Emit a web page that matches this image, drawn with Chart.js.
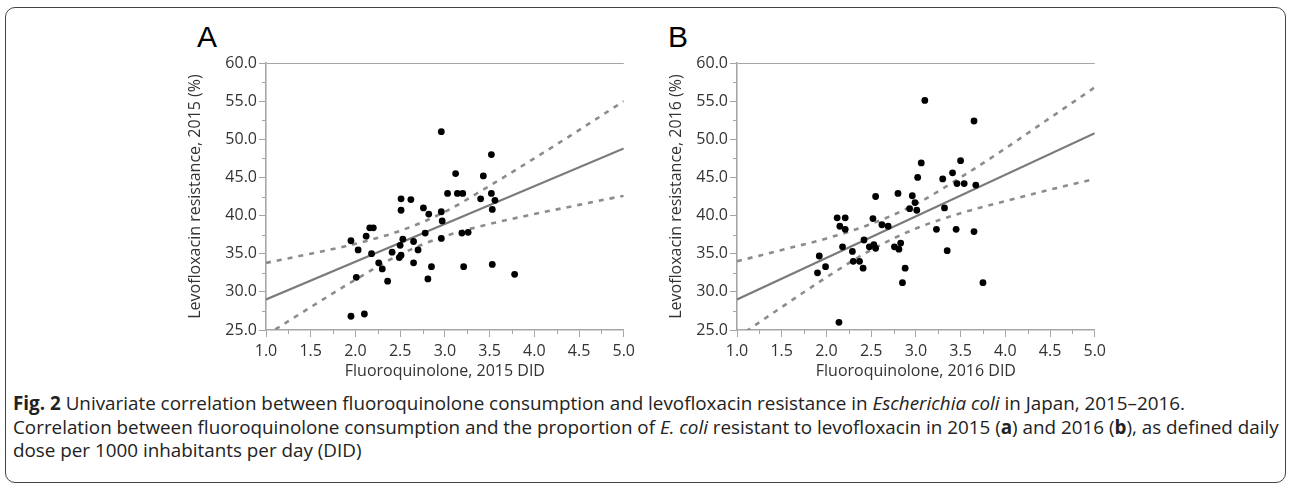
<!DOCTYPE html>
<html>
<head>
<meta charset="utf-8">
<script src="https://cdn.jsdelivr.net/npm/chart.js@4.4.1/dist/chart.umd.min.js"></script>
<style>
  html, body { margin: 0; padding: 0; background: #fff; }
  body { width: 1292px; height: 485px; position: relative; overflow: hidden; }
  #frame {
    position: absolute; left: 5px; top: 7px; width: 1279px; height: 474px;
    border: 1.5px solid #444; border-radius: 10px;
  }
  .panel { position: absolute; }
  .letter {
    position: absolute; font-family: "Liberation Sans", Arial, sans-serif;
    font-size: 30px; color: #000; line-height: 30px;
  }
  #caption {
    position: absolute; left: 13px; top: 392px;
    font-family: "Open Sans", "Noto Sans", sans-serif;
    font-size: 16px; line-height: 23.5px; color: #222; white-space: nowrap;
  }
  #caption span { display: inline-block; }
</style>
</head>
<body>
<div id="frame"></div>
<div class="letter" style="left:197px; top:22px;">A</div>
<div class="letter" style="left:668px; top:22px;">B</div>
<div class="panel" style="left:140px; top:40px; width:500px; height:350px;"><canvas id="chartA"></canvas></div>
<div class="panel" style="left:611px; top:40px; width:500px; height:350px;"><canvas id="chartB"></canvas></div>
<div id="caption">
  <div><span><b>Fig. 2</b> Univariate correlation between fluoroquinolone consumption and levofloxacin resistance in <i>Escherichia coli</i> in Japan, 2015–2016.</span></div>
  <div><span id="longLine">Correlation between fluoroquinolone consumption and the proportion of <i>E. coli</i> resistant to levofloxacin in 2015 (<b>a</b>) and 2016 (<b>b</b>), as defined daily</span></div>
  <div><span>dose per 1000 inhabitants per day (DID)</span></div>
</div>

<script>
// 2015 prefectures: fluoroquinolone DID vs levofloxacin resistance (%)
const didA = [2.96, 3.52, 3.12, 3.43, 3.03, 3.14, 3.20, 3.52, 3.40, 3.56, 2.51, 2.62, 2.51, 2.76, 2.82, 2.96,
    3.53, 2.97, 3.19, 3.26, 2.78, 2.96, 2.53, 2.65, 2.50, 2.70, 2.41, 2.51, 2.49, 2.65, 2.85, 3.21, 3.53, 3.78,
    2.81, 2.26, 2.30, 2.36, 1.95, 2.03, 2.12, 2.16, 2.20, 2.18, 2.01, 1.95, 2.10];
const resA = [51.0, 48.0, 45.5, 45.2, 42.9, 42.9, 42.9, 42.9, 42.2, 42.0, 42.2, 42.1, 40.7, 41.0, 40.2, 40.5,
    40.8, 39.3, 37.7, 37.8, 37.7, 37.0, 36.9, 36.6, 36.1, 35.5, 35.2, 34.8, 34.5, 33.8, 33.3, 33.3, 33.6, 32.3,
    31.7, 33.8, 33.0, 31.4, 36.7, 35.5, 37.3, 38.4, 38.4, 35.0, 31.9, 26.8, 27.1];

// 2016
const didB = [3.10, 3.65, 3.50, 3.06, 3.02, 3.30, 3.41, 3.46, 3.54, 3.67, 2.55, 2.80, 2.96, 2.99, 2.93, 3.01,
    3.32, 2.12, 2.21, 2.52, 2.15, 2.21, 2.62, 2.69, 3.23, 3.45, 3.65, 2.42, 2.18, 2.48, 2.53, 2.55, 2.76, 2.83,
    2.81, 2.29, 3.35, 2.30, 2.37, 2.41, 2.88, 2.85, 3.75, 2.14, 1.90, 1.92, 1.99];
const resB = [55.1, 52.4, 47.2, 46.9, 45.0, 44.8, 45.6, 44.2, 44.2, 44.0, 42.5, 42.9, 42.6, 41.7, 40.9, 40.7,
    41.0, 39.7, 39.7, 39.6, 38.6, 38.2, 38.8, 38.6, 38.2, 38.2, 37.9, 36.8, 35.9, 35.9, 36.2, 35.7, 35.9, 36.4,
    35.6, 35.3, 35.4, 34.0, 34.0, 33.1, 33.1, 31.2, 31.2, 26.0, 32.5, 34.7, 33.3];

// fitted line and 95% band
const fitX = [1.0, 5.0];
const fitA = [29.0, 48.8];
const fitB = [29.0, 50.8];
const bandX = [1.0, 1.5, 2.0, 2.5, 3.0, 3.5, 4.0, 4.5, 5.0];
const upperA = [33.8, 35.0, 36.3, 38.0, 40.5, 43.9, 47.5, 51.2, 55.0];
const lowerA = [24.3, 28.0, 31.6, 34.9, 37.3, 38.9, 40.2, 41.4, 42.6];
const upperB = [34.0, 35.5, 37.0, 38.9, 41.5, 45.0, 48.8, 52.8, 56.8];
const lowerB = [24.0, 28.0, 31.9, 35.5, 38.3, 40.3, 41.9, 43.4, 44.8];

const xTicks = [1.0, 1.5, 2.0, 2.5, 3.0, 3.5, 4.0, 4.5, 5.0];
const yTicks = [25, 30, 35, 40, 45, 50, 55, 60];

// caption: size the font so the long line ends near the right edge like the original
const cap = document.getElementById("caption");
const w = document.getElementById("longLine").getBoundingClientRect().width;
cap.style.fontSize = (16 * 1266 / w).toFixed(2) + "px";

const pts = (xs, ys) => xs.map((x, i) => ({ x: x, y: ys[i] }));

const tickFont = { family: "'Open Sans', 'Noto Sans', sans-serif", size: 16 };
const axisGray = "#a6a6a6";

// small ticks halfway between the labelled ones
const minorTicks = {
    id: "minorTicks",
    afterDraw(chart) {
        const ctx = chart.ctx;
        const xs = chart.scales.x, ys = chart.scales.y;
        ctx.save();
        ctx.strokeStyle = axisGray;
        ctx.lineWidth = 1;
        for (let i = 0; i < xTicks.length - 1; i++) {
            const px = Math.round(xs.getPixelForValue((xTicks[i] + xTicks[i + 1]) / 2)) + 0.5;
            ctx.beginPath();
            ctx.moveTo(px, ys.bottom);
            ctx.lineTo(px, ys.bottom + 4);
            ctx.stroke();
        }
        for (let i = 0; i < yTicks.length - 1; i++) {
            const py = Math.round(ys.getPixelForValue((yTicks[i] + yTicks[i + 1]) / 2)) + 0.5;
            ctx.beginPath();
            ctx.moveTo(xs.left - 4, py);
            ctx.lineTo(xs.left, py);
            ctx.stroke();
        }
        ctx.restore();
    }
};

function makeChart(id, did, res, fit, upper, lower, year, titleGap) {
    new Chart(document.getElementById(id), {
        type: "scatter",
        data: {
            datasets: [
                {
                    data: pts(did, res),
                    pointRadius: 3.4,
                    pointBackgroundColor: "#000",
                    pointBorderWidth: 0
                },
                {
                    type: "line",
                    data: pts(fitX, fit),
                    borderColor: "#7a7a7a",
                    borderWidth: 2.2,
                    pointRadius: 0
                },
                {
                    type: "line",
                    data: pts(bandX, upper),
                    borderColor: "#8c8c8c",
                    borderWidth: 2.6,
                    borderDash: [5, 6],
                    cubicInterpolationMode: "monotone",
                    pointRadius: 0
                },
                {
                    type: "line",
                    data: pts(bandX, lower),
                    borderColor: "#8c8c8c",
                    borderWidth: 2.6,
                    borderDash: [5, 6],
                    cubicInterpolationMode: "monotone",
                    pointRadius: 0
                }
            ]
        },
        options: {
            responsive: true,
            maintainAspectRatio: false,
            animation: false,
            events: [],
            layout: { padding: { top: 23, right: 16, left: titleGap, bottom: 6 } },
            plugins: { legend: { display: false }, tooltip: { enabled: false } },
            scales: {
                x: {
                    type: "linear",
                    min: 1, max: 5,
                    afterBuildTicks: s => { s.ticks = xTicks.map(v => ({ value: v })); },
                    afterFit: s => { s.height = 54; },
                    border: { color: axisGray, width: 1.6 },
                    grid: { drawOnChartArea: false, tickLength: 7, tickColor: axisGray },
                    ticks: { color: "#333", font: tickFont, padding: 5, maxRotation: 0, callback: v => v.toFixed(1) },
                    title: {
                        display: true, text: "Fluoroquinolone, " + year + " DID",
                        color: "#333", font: tickFont, padding: { top: 2, bottom: 3 }
                    }
                },
                y: {
                    min: 25, max: 60,
                    afterBuildTicks: s => { s.ticks = yTicks.map(v => ({ value: v })); },
                    afterFit: s => { s.width = 126 - titleGap; },
                    border: { color: axisGray, width: 1.6 },
                    grid: {
                        tickLength: 7, tickColor: axisGray,
                        color: c => (c.tick && c.tick.value === 60) ? axisGray : "rgba(0,0,0,0)"
                    },
                    ticks: { color: "#333", font: tickFont, padding: 2, callback: v => v.toFixed(1) },
                    title: {
                        display: true, text: "Levofloxacin resistance, " + year + " (%)",
                        color: "#333", font: tickFont, padding: { top: 2, bottom: 0 }
                    }
                }
            }
        },
        plugins: [minorTicks]
    });
}

makeChart("chartA", didA, resA, fitA, upperA, lowerA, "2015", 44);
makeChart("chartB", didB, resB, fitB, upperB, lowerB, "2016", 54);
</script>
</body>
</html>
